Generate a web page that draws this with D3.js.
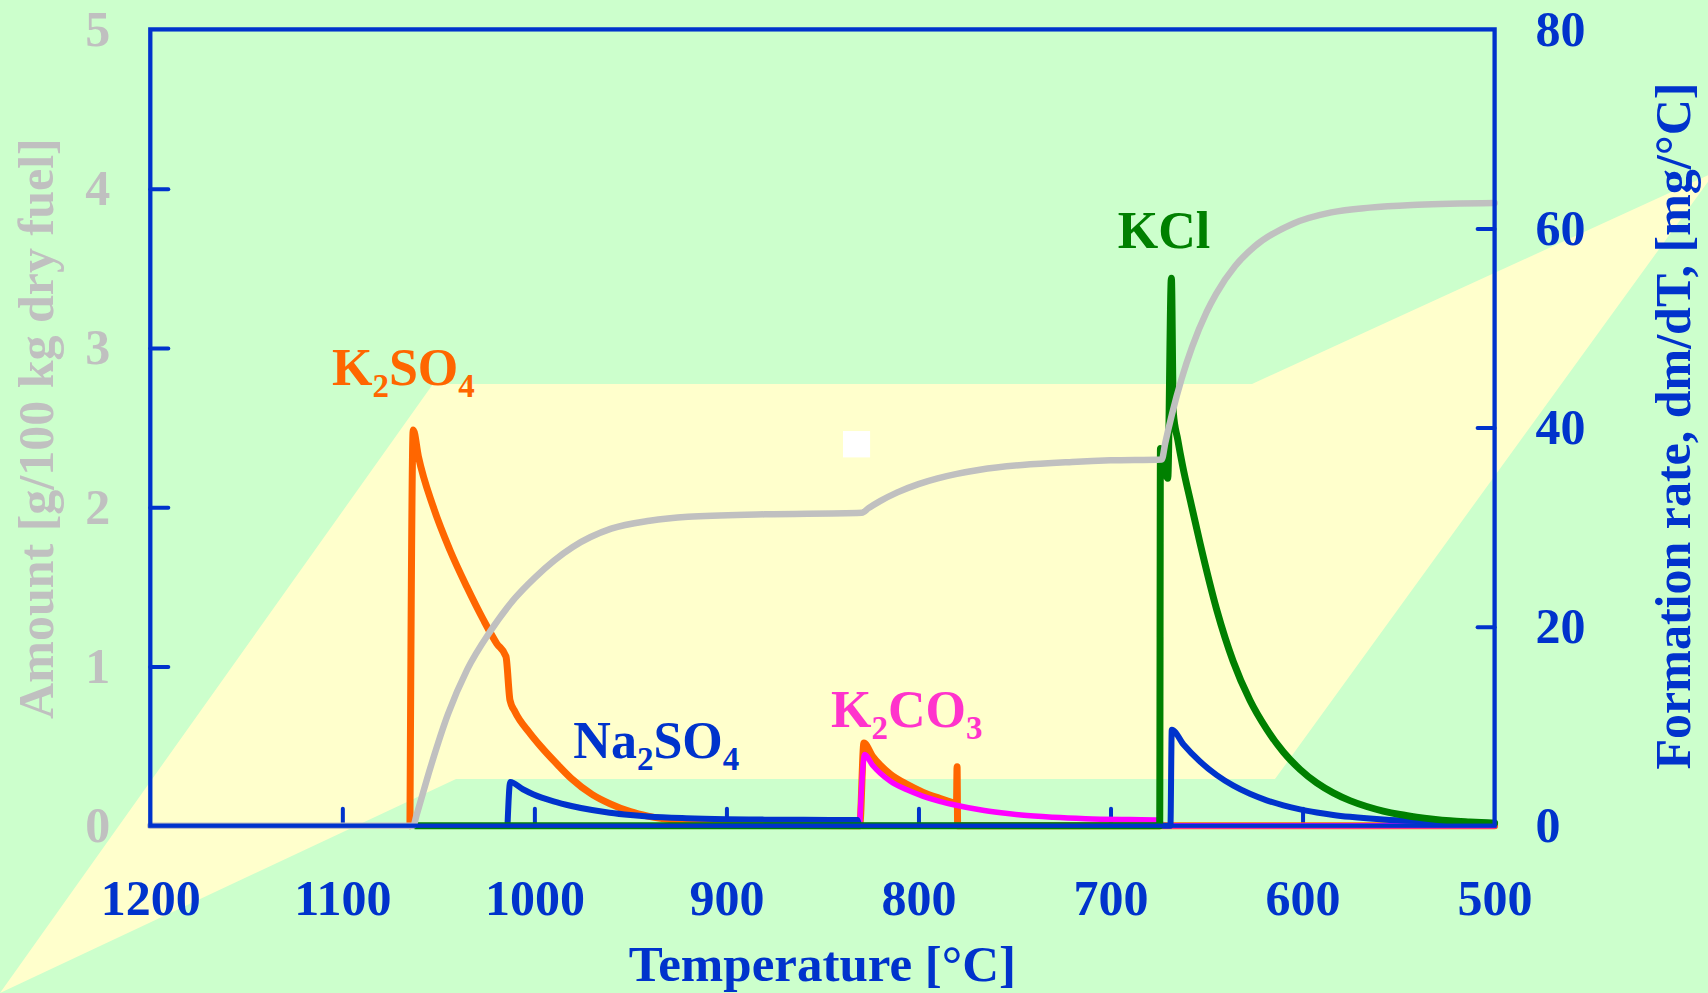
<!DOCTYPE html>
<html>
<head>
<meta charset="utf-8">
<script src="https://cdn.jsdelivr.net/npm/d3@7"></script>
<style>
  html, body { margin: 0; padding: 0; background: #CCFFCC; overflow: hidden; }
  svg { display: block; }
  text { font-family: "Times New Roman", "Liberation Serif", serif; font-weight: bold; }
</style>
</head>
<body>
<svg id="chart" width="1708" height="993"></svg>
<script>
// ---- axis ticks ----
const tempTicks   = [1200, 1100, 1000, 900, 800, 700, 600, 500];
const amountTicks = [0, 1, 2, 3, 4, 5];
const rateTicks   = [0, 20, 40, 60, 80];

// ---- total condensed amount [g/100 kg dry fuel] (left axis), [T °C, value] ----
const amountTotal = [
  [1200, 0], [1063, 0], [1061.5, 0.06], [1054, 0.37], [1045, 0.70], [1035, 0.98],
  [1023, 1.22], [1010, 1.43], [1000, 1.555], [980, 1.75], [960, 1.865], [940, 1.915],
  [920, 1.94], [880, 1.955], [829.5, 1.965], [826, 1.994], [820, 2.038], [811, 2.093],
  [800, 2.145], [790, 2.181], [780, 2.209], [768, 2.235], [746, 2.265], [720, 2.284],
  [700, 2.294], [673.3, 2.30], [671.5, 2.403], [668, 2.584], [663, 2.806],
  [657.5, 3.007], [650, 3.225], [645, 3.34], [635, 3.516], [625, 3.637], [605, 3.78],
  [585, 3.851], [565, 3.881], [540, 3.899], [500, 3.91]
];

// ---- formation rates dm/dT [mg/°C] (right axis), [T °C, value] ----
const rateK2SO4 = [
  [1064.8, 0], [1063.1, 39.75], [1060.4, 37.1], [1052.6, 32.0], [1044, 27.7],
  [1035.2, 24.0], [1026.6, 20.7], [1019.6, 18.3], [1014.8, 17.0], [1012.7, 12.6],
  [1010.1, 11.45], [1002.3, 9.28], [996.7, 7.97], [988, 6.15], [980.7, 4.73],
  [970, 3.15], [960.8, 2.22], [950, 1.41], [940.9, 0.96], [921, 0.45], [900, 0.2],
  [880, 0.08], [860, 0.03], [830.6, 0], [828.4, 8.3], [824, 7.0], [820, 6.1],
  [814.8, 5.2], [806, 4.15], [797.5, 3.35], [789, 2.75], [781.9, 2.3], [780.2, 2.2],
  [779.9, 5.93], [779.6, 0], [500, 0]
];
const rateNa2SO4 = [
  [1014, 0], [1012.6, 4.38], [1006, 3.66], [1000.7, 3.16], [990, 2.44], [980.7, 1.98],
  [970, 1.57], [960.8, 1.31], [950, 1.08], [940.9, 0.93], [921, 0.75], [900, 0.65],
  [880, 0.61], [860, 0.59], [831.8, 0.58], [830.8, 0], [668.8, 0], [668.1, 9.65],
  [662, 8.16], [653.4, 6.45], [644.7, 5.08], [636, 4.02], [627.4, 3.2], [618.7, 2.55],
  [610, 2.04], [601.3, 1.64], [592.6, 1.33], [584, 1.08], [575.3, 0.89], [566.6, 0.74],
  [558, 0.62], [540.6, 0.46], [523, 0.36], [505.9, 0.3], [500, 0.28]
];
const rateK2CO3 = [
  [830.6, 0], [828.0, 7.15], [824, 6.1], [820, 5.3], [814.8, 4.5], [806, 3.6],
  [797.5, 2.95], [789, 2.45], [781, 2.08], [768, 1.6], [757, 1.3], [746.5, 1.07],
  [730, 0.85], [713, 0.71], [690, 0.62], [674.5, 0.58], [673.2, 0], [500, 0]
];
const rateKCl = [
  [1062, 0], [674.4, 0], [674.0, 37.9], [670.2, 34.9], [668.3, 55.0], [667.3, 41.5],
  [665, 38.8], [662.5, 36.2], [658, 32.3], [653.4, 28.4], [644.7, 21.7], [636.1, 16.5],
  [627.4, 12.6], [618.7, 9.7], [610, 7.4], [601.3, 5.65], [592.6, 4.3], [584, 3.3],
  [575.3, 2.52], [566.6, 1.93], [558, 1.47], [549.3, 1.12], [540.6, 0.86], [532, 0.66],
  [523.2, 0.5], [513, 0.38], [504, 0.29], [500, 0.26]
];

// ---- series labels: text parts alternate normal / subscript; anchored at [T, rate] ----
const labelK2SO4  = { parts: ["K", "2", "SO", "4"], at: [1105.4, 44.27], color: "#FF6600" };
const labelNa2SO4 = { parts: ["Na", "2", "SO", "4"], at: [979.7, 6.78], color: "#0033CC" };
const labelK2CO3  = { parts: ["K", "2", "CO", "3"], at: [845.5, 9.89], color: "#FF33CC" };
const labelKCl    = { parts: ["KCl"], at: [696.2, 58.04], color: "#008000" };

// small white square marker [T0, T1, rate0, rate1]
const markerSquare = [839.3, 825.2, 37.0, 39.65];

// decorative backdrop band (page pixels)
const backdropBand = [[0, 993], [433, 384], [1252, 384], [1715, 172], [1275, 779], [456, 779]];

// ---- layout ----
const W = 1708, H = 993;
const plot = { left: 150.3, right: 1494.6, top: 29.4, bottom: 825.7 };
const BLUE = "#0033CC", GRAY = "#C0C0C0";

const svg = d3.select("#chart");
svg.append("rect").attr("width", W).attr("height", H).attr("fill", "#CCFFCC");
svg.append("polygon")
  .attr("points", backdropBand.map(p => p.join(",")).join(" "))
  .attr("fill", "#FFFFCC");

const x = d3.scaleLinear().domain([1200, 500]).range([plot.left, plot.right]);
const yAmt = d3.scaleLinear().domain([0, 5]).range([plot.bottom, plot.top]);
const yRate = d3.scaleLinear().domain([0, 80]).range([plot.bottom, plot.top]);

// white square
svg.append("rect")
  .attr("x", x(markerSquare[0]))
  .attr("y", yRate(markerSquare[3]))
  .attr("width", x(markerSquare[1]) - x(markerSquare[0]))
  .attr("height", yRate(markerSquare[2]) - yRate(markerSquare[3]))
  .attr("fill", "#FFFFFF");

// ---- axes ----
function styleAxis(g, color, fontSize) {
  g.attr("font-size", null).attr("font-family", null);
  g.select(".domain").remove();
  g.selectAll(".tick line")
    .attr("stroke", BLUE).attr("stroke-width", 4).attr("stroke-linecap", "round");
  g.selectAll(".tick text")
    .attr("fill", color).style("font-size", fontSize + "px");
}

const gx = svg.append("g").attr("transform", `translate(0,${plot.bottom})`)
  .call(d3.axisBottom(x).tickValues(tempTicks).tickSize(-17).tickPadding(54).tickFormat(d3.format("d")));
styleAxis(gx, BLUE, 50);
gx.selectAll(".tick").filter(d => d === 1200 || d === 500).select("line").remove();

const gl = svg.append("g").attr("transform", `translate(${plot.left},0)`)
  .call(d3.axisLeft(yAmt).tickValues(amountTicks).tickSize(-18).tickPadding(40).tickFormat(d3.format("d")));
styleAxis(gl, GRAY, 50);
gl.selectAll(".tick").filter(d => d === 0 || d === 5).select("line").remove();

const gr = svg.append("g").attr("transform", `translate(${plot.right},0)`)
  .call(d3.axisRight(yRate).tickValues(rateTicks).tickSize(-17).tickPadding(41).tickFormat(d3.format("d")));
styleAxis(gr, BLUE, 50);
gr.selectAll(".tick").filter(d => d === 0 || d === 80).select("line").remove();

// ---- curves ----
const rateLine = d3.line().x(d => x(d[0])).y(d => yRate(d[1])).curve(d3.curveMonotoneX);
const amountLine = d3.line().x(d => x(d[0])).y(d => yAmt(d[1])).curve(d3.curveMonotoneX);

const curves = [
  { data: rateK2SO4, color: "#FF6600", width: 7, gen: rateLine },
  { data: rateK2CO3, color: "#FF00FF", width: 5.5, gen: rateLine },
  { data: rateNa2SO4, color: BLUE, width: 6, gen: rateLine },
  { data: rateKCl, color: "#008000", width: 7, gen: rateLine },
  { data: amountTotal, color: GRAY, width: 6.5, gen: amountLine }
];
svg.append("g").selectAll("path").data(curves).join("path")
  .attr("d", c => c.gen(c.data))
  .attr("fill", "none")
  .attr("stroke", c => c.color)
  .attr("stroke-width", c => c.width)
  .attr("stroke-linejoin", "round")
  .attr("stroke-linecap", "round");

// ---- frame ----
svg.append("rect")
  .attr("x", plot.left).attr("y", plot.top)
  .attr("width", plot.right - plot.left).attr("height", plot.bottom - plot.top)
  .attr("fill", "none").attr("stroke", BLUE).attr("stroke-width", 4.3);

// ---- series labels with subscripts ----
[labelK2SO4, labelNa2SO4, labelK2CO3, labelKCl].forEach(lab => {
  const t = svg.append("text")
    .attr("x", x(lab.at[0])).attr("y", yRate(lab.at[1]))
    .attr("fill", lab.color).style("font-size", "52px");
  lab.parts.forEach((p, i) => {
    const sub = i % 2 === 1;
    t.append("tspan")
      .attr("dy", i === 0 ? 0 : (sub ? 12 : -12))
      .style("font-size", sub ? "33px" : "52px")
      .text(p);
  });
});

// ---- axis titles ----
svg.append("text")
  .attr("x", (plot.left + plot.right) / 2).attr("y", 981)
  .attr("text-anchor", "middle").attr("fill", BLUE).style("font-size", "51px")
  .text("Temperature [°C]");

svg.append("text")
  .attr("transform", "translate(53,428.6) rotate(-90)")
  .attr("text-anchor", "middle").attr("fill", GRAY).style("font-size", "50px")
  .text("Amount [g/100 kg dry fuel]");

svg.append("text")
  .attr("transform", "translate(1690,426) rotate(-90)")
  .attr("text-anchor", "middle").attr("fill", BLUE).style("font-size", "50px")
  .text("Formation rate, dm/dT, [mg/°C]");
</script>
</body>
</html>
